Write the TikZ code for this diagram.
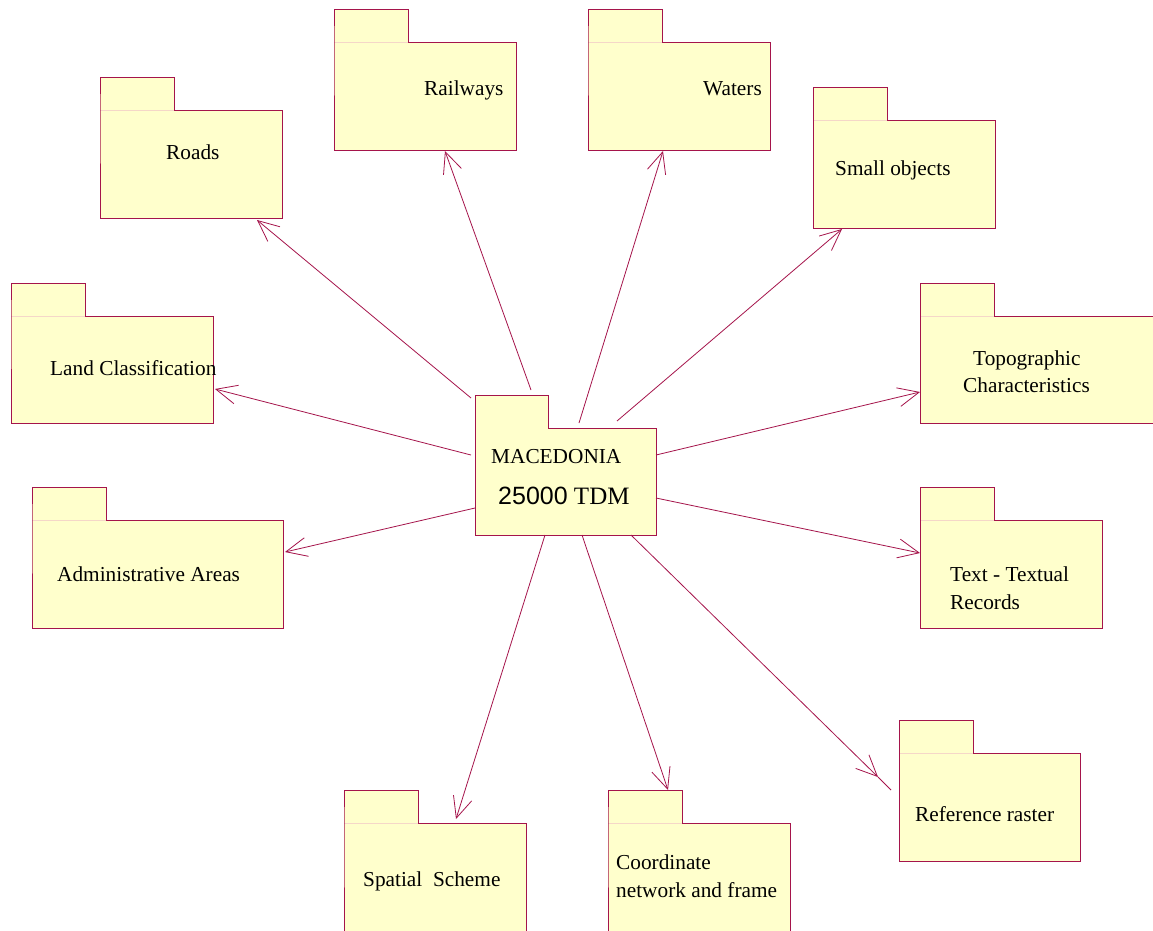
\documentclass[tikz,border=0pt]{standalone}
\usepackage{fontspec}
\setmainfont{Liberation Serif}
\newfontfamily\sansf{Liberation Sans}
\usetikzlibrary{arrows.meta}
\definecolor{pkline}{RGB}{165,20,75}
\definecolor{pkfill}{RGB}{255,255,204}
\definecolor{pkfaint}{RGB}{245,215,200}
\tikzset{
 pkgbody/.style={fill=pkfill, draw=none, inner sep=0pt, outer sep=0pt, rectangle},
 pkgline/.style={draw=pkline, line width=0.9pt, line join=miter},
 pkgsep/.style={draw=pkfaint, line width=0.6pt},
 lbl/.style={anchor=base west, inner sep=0pt, font=\fontsize{21.3}{27}\selectfont},
 conn/.style={draw=pkline, line width=0.8pt, -{Straight Barb[length=21pt,width=19pt]}},
 plainconn/.style={draw=pkline, line width=0.8pt},
}
% name, x, y (tab top-left), body width, body height
\newcommand\pkgbox[5]{%
 \fill[pkfill] (#2,#3) rectangle ++(74,33);
 \node[pkgbody, minimum width=#4, minimum height=#5, anchor=north west] (#1) at (#2,#3+33) {};
 \draw[pkgsep] (#2,#3+33) -- ++(74,0);
 \draw[pkgline] (#2,#3+33) -- (#2,#3) -- ++(74,0) -- ++(0,33) -- (#2+#4,#3+33) -- ++(0,#5) -- (#2,#3+33+#5) -- cycle;
}
\begin{document}
\begin{tikzpicture}[x=1pt,y=-1pt]
\useasboundingbox (0,0) rectangle (1153,930);
\clip (0,0) rectangle (1153,930);
\fill[white] (0,0) rectangle (1153,930);

% packages
\pkgbox{roads}{100}{77}{182}{108}
\pkgbox{rail}{334}{9}{182}{108}
\pkgbox{waters}{588}{9}{182}{108}
\pkgbox{small}{813}{87}{182}{108}
\pkgbox{land}{11}{283}{202}{107}
\pkgbox{topo}{920}{283}{250}{107}
\pkgbox{admin}{32}{487}{251}{108}
\pkgbox{text}{920}{487}{182}{108}
\pkgbox{raster}{899}{720}{181}{108}
\pkgbox{spatial}{344}{790}{182}{130}
\pkgbox{coord}{608}{790}{182}{130}

% center package
\fill[pkfill] (475,395) rectangle (548,428);
\node[pkgbody, minimum width=181, minimum height=107, anchor=north west] (mac) at (475,428) {};
\draw[pkgline] (475,535) -- (475,395) -- (548,395) -- (548,428) -- (656,428) -- (656,535) -- cycle;

% labels
\node[lbl] (tmac) at (491,463) {MACEDONIA};
\node[lbl, font=\fontsize{25}{30}\selectfont] (ttdm) at (498,504) {{\sansf 25000} TDM};
\node[lbl] (troads) at (166,159) {Roads};
\node[lbl] (trail) at (424,95) {Railways};
\node[lbl] (twaters) at (703,95) {Waters};
\node[lbl] (tsmall) at (835,175) {Small objects};
\node[lbl] (tland) at (50,375) {Land Classification};
\node[lbl] (ttopoa) at (973,365) {Topographic};
\node[lbl] (ttopob) at (963,392) {Characteristics};
\node[lbl] (tadmin) at (57,581) {Administrative Areas};
\node[lbl] (ttexta) at (950,581) {Text - Textual};
\node[lbl] (ttextb) at (950,609) {Records};
\node[lbl] (traster) at (915,821) {Reference raster};
\node[lbl] (tspatial) at (363,886) {Spatial\ \ Scheme};
\node[lbl] (tcoorda) at (616,869) {Coordinate};
\node[lbl] (tcoordb) at (616,897) {network and frame};

% connector ends
\coordinate (sRoads) at (471,398);  \coordinate (eRoads) at (257,220);
\coordinate (sRail) at (531,390);   \coordinate (eRail) at (445,151);
\coordinate (sWat) at (579,423);    \coordinate (eWat) at (663,151);
\coordinate (sSmall) at (617,421);  \coordinate (eSmall) at (842,229);
\coordinate (sLand) at (471,455);   \coordinate (eLand) at (215,389);
\coordinate (sTopo) at (656,455);   \coordinate (eTopo) at (920,392);
\coordinate (sAdmin) at (475,508);  \coordinate (eAdmin) at (285,552);
\coordinate (sText) at (656,498);   \coordinate (eText) at (920,553);
\coordinate (sRast) at (631,535);   \coordinate (eRast) at (878,777);
\coordinate (xRast) at (891,790);
\coordinate (sSpat) at (545,535);   \coordinate (eSpat) at (456,819);
\coordinate (sCoord) at (582,535);  \coordinate (eCoord) at (668,790);

\draw[conn] (sRoads) -- (eRoads);
\draw[conn] (sRail) -- (eRail);
\draw[conn] (sWat) -- (eWat);
\draw[conn] (sSmall) -- (eSmall);
\draw[conn] (sLand) -- (eLand);
\draw[conn] (sTopo) -- (eTopo);
\draw[conn] (sAdmin) -- (eAdmin);
\draw[conn] (sText) -- (eText);
\draw[conn] (sRast) -- (eRast);
\draw[plainconn] (eRast) -- (xRast);
\draw[conn] (sSpat) -- (eSpat);
\draw[conn] (sCoord) -- (eCoord);
\end{tikzpicture}
\end{document}
